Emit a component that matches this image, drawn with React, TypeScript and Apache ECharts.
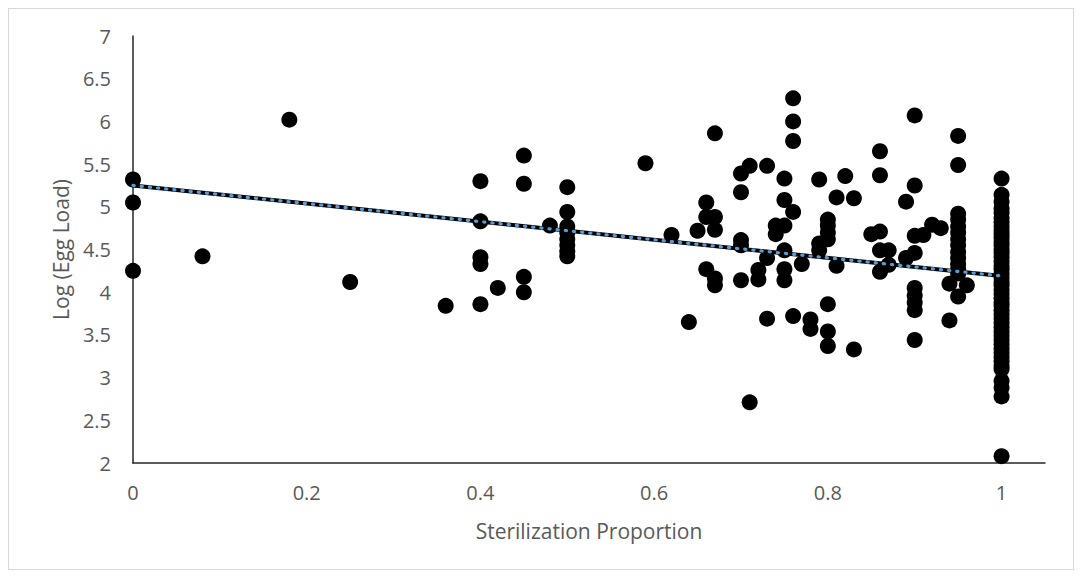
import React, { useEffect, useRef } from "react";
import * as echarts from "echarts";

// Sterilization proportion (x) and Log(Egg Load) (y)
const sterilization: number[] = [
  0, 0, 0,
  0.08, 0.18, 0.25, 0.36,
  0.4, 0.4, 0.4, 0.4, 0.4,
  0.42,
  0.45, 0.45, 0.45, 0.45,
  0.48,
  0.5, 0.5, 0.5, 0.5, 0.5, 0.5, 0.5, 0.5,
  0.59, 0.62, 0.64, 0.65,
  0.66, 0.66, 0.66,
  0.67, 0.67, 0.67, 0.67, 0.67,
  0.7, 0.7, 0.7, 0.7, 0.7,
  0.71, 0.71,
  0.72, 0.72,
  0.73, 0.73, 0.73,
  0.74, 0.74,
  0.75, 0.75, 0.75, 0.75, 0.75, 0.75,
  0.76, 0.76, 0.76, 0.76, 0.76,
  0.77,
  0.78, 0.78,
  0.79, 0.79, 0.79,
  0.8, 0.8, 0.8, 0.8, 0.8, 0.8, 0.8,
  0.81, 0.81,
  0.82,
  0.83, 0.83,
  0.85,
  0.86, 0.86, 0.86, 0.86, 0.86,
  0.87, 0.87,
  0.89, 0.89,
  0.9, 0.9, 0.9, 0.9, 0.9, 0.9, 0.9, 0.9, 0.9,
  0.91, 0.92, 0.93,
  0.94, 0.94,
  0.95, 0.95, 0.95, 0.95, 0.95, 0.95, 0.95, 0.95, 0.95, 0.95, 0.95, 0.95, 0.95, 0.95,
  0.96,
  1, 1, 1, 1, 1, 1, 1, 1, 1, 1, 1, 1, 1, 1, 1, 1, 1, 1, 1, 1, 1, 1, 1, 1,
  1, 1, 1, 1, 1, 1, 1, 1, 1, 1, 1, 1, 1, 1, 1, 1, 1, 1, 1, 1, 1, 1, 1,
];

const logEggLoad: number[] = [
  5.32, 5.05, 4.25,
  4.42, 6.02, 4.12, 3.84,
  5.3, 4.83, 4.41, 4.33, 3.86,
  4.05,
  5.6, 5.27, 4.18, 4.0,
  4.78,
  5.23, 4.94, 4.77, 4.7, 4.62, 4.55, 4.48, 4.42,
  5.51, 4.67, 3.65, 4.72,
  5.05, 4.88, 4.27,
  5.86, 4.88, 4.73, 4.16, 4.08,
  5.39, 5.17, 4.61, 4.55, 4.14,
  5.48, 2.71,
  4.26, 4.15,
  5.48, 4.4, 3.69,
  4.78, 4.68,
  5.33, 5.08, 4.78, 4.49, 4.27, 4.14,
  6.27, 6.0, 5.77, 4.94, 3.72,
  4.33,
  3.68, 3.57,
  5.32, 4.57, 4.49,
  4.85, 4.78, 4.7, 4.62, 3.86, 3.54, 3.37,
  5.11, 4.31,
  5.36,
  5.1, 3.33,
  4.68,
  5.65, 5.37, 4.71, 4.49, 4.24,
  4.49, 4.32,
  5.06, 4.4,
  6.07, 5.25, 4.66, 4.46, 4.05, 3.96, 3.88, 3.79, 3.44,
  4.67, 4.79, 4.75,
  4.1, 3.67,
  5.83, 5.49, 4.92, 4.85, 4.77, 4.7, 4.62, 4.55, 4.47, 4.4, 4.33, 4.27, 4.22, 3.95,
  4.08,
  5.33, 5.14, 5.06, 4.98, 4.93, 4.87, 4.82, 4.77, 4.72, 4.68, 4.64, 4.59, 4.55, 4.5, 4.46, 4.41, 4.36, 4.31, 4.27, 4.22, 4.17, 4.12, 4.08, 4.03,
  3.98, 3.93, 3.88, 3.84, 3.79, 3.74, 3.69, 3.64, 3.59, 3.54, 3.49, 3.44, 3.39, 3.34, 3.29, 3.24, 3.19, 3.14, 3.1, 2.96, 2.88, 2.78, 2.08,
];

// Linear trendline endpoints (as drawn)
const trendX: number[] = [0, 1];
const trendY: number[] = [5.25, 4.19];

const xTicks: string[] = ["0", "0.2", "0.4", "0.6", "0.8", "1"];

const FONT = "'Open Sans', 'Noto Sans', sans-serif";
const TEXT_COLOR = "#595959";

export default function App() {
  const ref = useRef<HTMLDivElement>(null);

  useEffect(() => {
    if (!ref.current) return;
    const chart = echarts.init(ref.current, undefined, { renderer: "svg" });
    const points = sterilization.map((x, i) => [x, logEggLoad[i]]);
    const trend = trendX.map((x, i) => [x, trendY[i]]);

    chart.setOption({
      animation: false,
      backgroundColor: "#ffffff",
      textStyle: { fontFamily: FONT },
      grid: { left: 124, right: 28, top: 27, bottom: 106, containLabel: false },
      xAxis: {
        type: "value",
        min: 0,
        max: 1.05,
        interval: 0.2,
        name: "Sterilization Proportion",
        nameLocation: "middle",
        nameGap: 57,
        nameTextStyle: { fontSize: 21, color: TEXT_COLOR, fontFamily: FONT },
        axisLine: { show: true, lineStyle: { color: "#262626", width: 1.5 } },
        axisTick: { show: false },
        splitLine: { show: false },
        axisLabel: {
          color: TEXT_COLOR,
          fontSize: 20,
          fontFamily: FONT,
          margin: 19,
          showMaxLabel: false,
          formatter: (v: number) => {
            const idx = Math.round(v / 0.2);
            return Math.abs(idx * 0.2 - v) < 1e-6 && idx < xTicks.length ? xTicks[idx] : "";
          },
        },
      },
      yAxis: {
        type: "value",
        min: 2,
        max: 7,
        interval: 0.5,
        name: "Log (Egg Load)",
        nameLocation: "middle",
        nameRotate: 90,
        nameGap: 50,
        nameTextStyle: { fontSize: 21, color: TEXT_COLOR, fontFamily: FONT },
        axisLine: { show: true, lineStyle: { color: "#262626", width: 1.5 } },
        axisTick: { show: false },
        splitLine: { show: false },
        axisLabel: {
          color: TEXT_COLOR,
          fontSize: 20,
          fontFamily: FONT,
          margin: 22,
        },
      },
      series: [
        {
          type: "scatter",
          data: points,
          symbol: "circle",
          symbolSize: 16,
          itemStyle: { color: "#000000", opacity: 1 },
          z: 2,
        },
        {
          type: "line",
          data: trend,
          symbol: "none",
          lineStyle: { color: "#000000", width: 4, opacity: 1 },
          z: 3,
          silent: true,
        },
        {
          type: "line",
          data: trend,
          symbol: "none",
          lineStyle: { color: "#5B9BD5", width: 3.2, type: [1.2, 7], cap: "round", opacity: 1 },
          z: 4,
          silent: true,
        },
      ],
    });

    return () => chart.dispose();
  }, []);

  return (
    <div
      style={{
        width: 1066,
        height: 562,
        border: "1px solid #d9d9d9",
        boxSizing: "border-box",
        background: "#fff",
      }}
    >
      <div ref={ref} style={{ width: 1064, height: 560 }} />
    </div>
  );
}
